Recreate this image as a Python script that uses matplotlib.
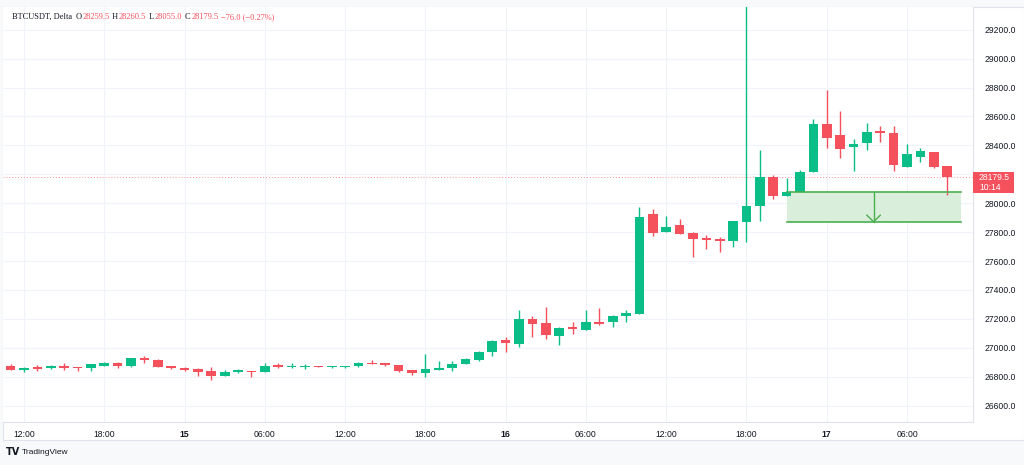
import numpy as np
import matplotlib
matplotlib.use('Agg')
import matplotlib.pyplot as plt
from matplotlib.patches import Rectangle

# hourly candles, first one at 11:00 on the 14th (hours counted from 14th 00:00)
hours = list(range(11, 82))

opens = [26875, 26849, 26865, 26858, 26874, 26867, 26858, 26877, 26897, 26874,
         26932, 26916, 26877, 26860, 26854, 26840, 26803, 26831, 26842, 26835,
         26881, 26867, 26867, 26874, 26865, 26865, 26872, 26897, 26893, 26881,
         26844, 26824, 26844, 26861, 26886, 26914, 26973, 27054, 27029, 27197,
         27170, 27084, 27146, 27124, 27181, 27179, 27218, 27236, 27926, 27801,
         27847, 27796, 27760, 27753, 27737, 27872, 27981, 28184, 28052, 28075,
         28218, 28548, 28470, 28391, 28414, 28500, 28488, 28253, 28317, 28356,
         28259.5]
highs = [26888, 26867, 26884, 26878, 26893, 26867, 26886, 26902, 26904, 26933,
         26946, 26925, 26877, 26867, 26858, 26870, 26847, 26854, 26842, 26893,
         26893, 26897, 26886, 26877, 26874, 26874, 26900, 26916, 26897, 26881,
         26847, 26958, 26909, 26912, 26928, 26981, 27054, 27077, 27262, 27220,
         27285, 27146, 27179, 27262, 27273, 27227, 27262, 27972, 27960, 27914,
         27889, 27803, 27780, 27769, 27875, 29600, 28368, 28195, 28172, 28230,
         28580, 28783, 28638, 28444, 28553, 28534, 28534, 28410, 28380, 28356,
         28260.5]
lows = [26845, 26831, 26840, 26856, 26849, 26842, 26842, 26877, 26861, 26867,
        26893, 26867, 26856, 26840, 26805, 26778, 26803, 26826, 26800, 26835,
        26858, 26858, 26854, 26865, 26861, 26861, 26870, 26888, 26874, 26835,
        26813, 26800, 26844, 26840, 26886, 26909, 26946, 26973, 27004, 27077,
        27059, 27020, 27096, 27124, 27158, 27146, 27181, 27236, 27773, 27801,
        27789, 27630, 27686, 27663, 27700, 27734, 27879, 28027, 28052, 28075,
        28218, 28384, 28311, 28225, 28368, 28425, 28223, 28253, 28287, 28242,
        28055.0]
closes = [26849, 26863, 26853, 26874, 26858, 26858, 26886, 26897, 26874, 26928,
          26914, 26870, 26858, 26849, 26833, 26807, 26833, 26847, 26835, 26877,
          26865, 26874, 26872, 26867, 26874, 26874, 26897, 26890, 26879, 26842,
          26824, 26851, 26863, 26888, 26921, 26973, 27047, 27031, 27197, 27163,
          27087, 27139, 27128, 27179, 27167, 27222, 27241, 27907, 27796, 27834,
          27789, 27755, 27748, 27737, 27875, 27981, 28179, 28052, 28075, 28218,
          28548, 28453, 28377, 28412, 28495, 28484, 28264, 28340, 28361, 28253,
          28179.5]

price_ticks = list(range(26600, 29201, 200))
time_ticks = [12, 18, 24, 30, 36, 42, 48, 54, 60, 66, 72, 78]
time_labels = ['12:00', '18:00', '15', '06:00', '12:00', '18:00', '16',
               '06:00', '12:00', '18:00', '17', '06:00']

# position zone (start hour, end hour, upper price, lower price)
zone_t = [69.0, 82.0]
zone_p = [28075, 27872]

last_price = 28179.5
countdown = '10:14'
header_name = 'BTCUSDT, Delta'
header_keys = ['O', 'H', 'L', 'C', '']
header_vals = ['28259.5', '28260.5', '28055.0', '28179.5', '\u221276.0 (\u22120.27%)']

UP = '#0bbd87'
DOWN = '#f4515c'
TXT = '#131722'
SANS = 'Liberation Sans'
SERIF = 'Liberation Serif'

W, H = 1024, 465
fig = plt.figure(figsize=(W / 100, H / 100), dpi=100)
fig.patch.set_facecolor('#f8f9fa')
renderer = fig.canvas.get_renderer()

# white chart panel
panel = fig.add_axes([3 / W, (H - 440) / H, 1 - 3 / W, (440 - 7) / H])
panel.set_facecolor('white')
panel.set_xticks([])
panel.set_yticks([])
for s in panel.spines.values():
    s.set_color('#e0e3eb')
    s.set_linewidth(0.8)

ax = fig.add_axes([3 / W, (H - 422) / H, (973 - 3) / W, (422 - 7) / H])
ax.set_facecolor('white')
ax.set_xlim(10.43, 82.93)
ax.set_ylim(26487, 29357)

for p in price_ticks:
    ax.axhline(p, color='#f0f3fa', lw=0.8, zorder=0)
for t in time_ticks:
    ax.axvline(t, color='#f0f3fa', lw=0.8, zorder=0)

# zone
ax.add_patch(Rectangle((zone_t[0], zone_p[1]), zone_t[1] - zone_t[0], zone_p[0] - zone_p[1],
                       facecolor='#d9efdb', edgecolor='none', zorder=1))
ax.plot(zone_t, [zone_p[0]] * 2, color='#4caf50', lw=1.2, zorder=4)
ax.plot(zone_t, [zone_p[1]] * 2, color='#4caf50', lw=1.2, zorder=1.5)
mid = (zone_t[0] + zone_t[1]) / 2
ax.plot([mid, mid], zone_p, color='#4caf50', lw=1.0, zorder=1.5)
ax.plot([mid - 0.5, mid, mid + 0.5], [zone_p[1] + 45, zone_p[1], zone_p[1] + 45],
        color='#4caf50', lw=1.0, zorder=1.5)

# last price line
ax.axhline(last_price, color='#f4515c', lw=0.7, ls=(0, (1, 2)), alpha=0.6, zorder=1)

o = np.array(opens, dtype=float)
c = np.array(closes, dtype=float)
hi = np.array(highs, dtype=float)
lo = np.array(lows, dtype=float)
x = np.array(hours, dtype=float)
cols = [UP if cc >= oo else DOWN for oo, cc in zip(o, c)]

ax.vlines(x, lo, hi, colors=cols, lw=1.0, zorder=2)
body_lo = np.minimum(o, c)
body_h = np.maximum(np.abs(c - o), 7)
ax.bar(x, body_h, bottom=body_lo, width=0.72, color=cols, zorder=3)

ax.yaxis.tick_right()
ax.set_yticks(price_ticks)
# the price tag hides the label next to the last price
ylabels = ['' if abs(p - last_price) < 60 else '%.1f' % p for p in price_ticks]
ax.set_yticklabels(ylabels, fontsize=6.2, color=TXT, family=SANS)
ax.set_xticks(time_ticks)
ax.set_xticklabels(time_labels, fontsize=6.2, color=TXT, family=SANS)
for lab in ax.get_xticklabels():
    if len(lab.get_text()) == 2:
        lab.set_fontweight('bold')
ax.tick_params(length=0, pad=6)
ax.tick_params(axis='y', pad=8)
for k in ['top', 'left']:
    ax.spines[k].set_visible(False)
for k in ['right', 'bottom']:
    ax.spines[k].set_color('#e0e3eb')
    ax.spines[k].set_linewidth(0.8)

# last price tag
fig.patches.append(Rectangle((973 / W, (H - 193) / H), 41 / W, 21 / H,
                             transform=fig.transFigure, facecolor='#f4515c',
                             edgecolor='none', zorder=5))
fig.text(979 / W, (H - 177.5) / H, '%.1f' % last_price, color='white', fontsize=6.2,
         family=SANS, ha='left', va='center', zorder=6)
fig.text(979 / W, (H - 187.5) / H, countdown, color='white', fontsize=6.2,
         family=SANS, ha='left', va='center', zorder=6)

# header
hy = (H - 17) / H
fig.text(12 / W, hy, header_name, fontsize=6, color=TXT, family=SERIF, va='center')
starts = [76, 112, 149, 185, 221]
for px, key, val in zip(starts, header_keys, header_vals):
    off = 0
    if key:
        kt = fig.text(px / W, hy, key, fontsize=6, color=TXT, family=SERIF,
                      va='center')
        off = kt.get_window_extent(renderer).width + 0.5
    fig.text((px + off) / W, hy, val, fontsize=6, color='#f4515c', family=SERIF,
             va='center')

# logo
fig.text(6 / W, (H - 452) / H, 'TV', fontsize=7, fontweight='bold', color=TXT,
         va='center')
fig.text(22 / W, (H - 452) / H, 'TradingView', fontsize=6, color=TXT, va='center',
         family=SANS)

fig.savefig('out.png', dpi=100, facecolor=fig.get_facecolor())
